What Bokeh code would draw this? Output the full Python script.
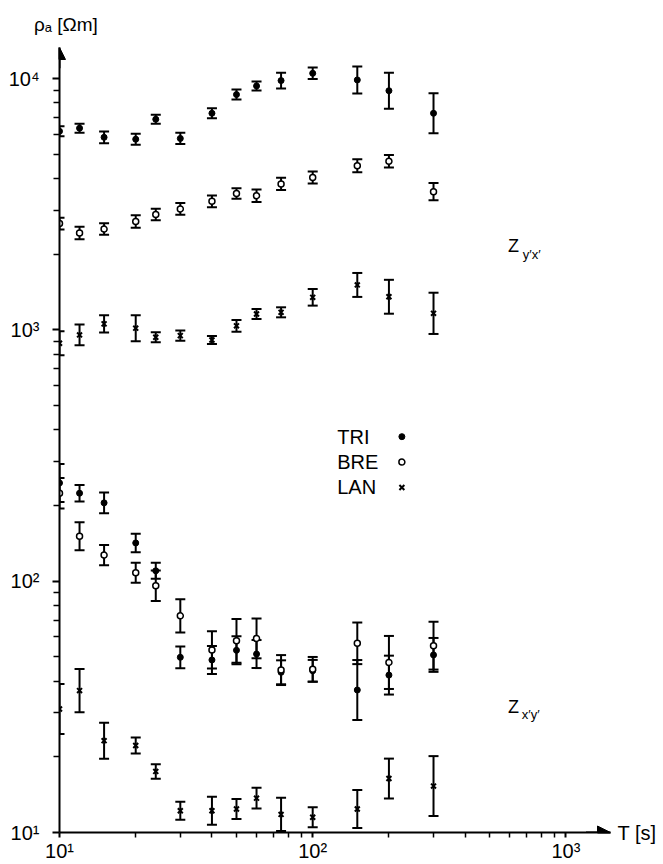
from bokeh.plotting import figure
from bokeh.models import (Range1d, FixedTicker, CustomJSTickFormatter, Label, Arrow,
                          NormalHead, Whisker, TeeHead, ColumnDataSource, LogAxis)
from bokeh.embed import file_html
from bokeh.resources import INLINE

# ---------------- data ----------------
periods = [10, 12, 15, 20, 24, 30, 40, 50, 60, 75, 100, 150, 200, 300]

# Z_y'x' (upper group)
tri_yx = [6170, 6350, 5840, 5740, 6890, 5780, 7280, 8640, 9350, 9820, 10500, 9880, 8950, 7280]
tri_yx_err = [1.047, 1.042, 1.056, 1.052, 1.042, 1.053, 1.047, 1.047, 1.042, 1.074, 1.054, 1.131, 1.179, 1.20]
bre_yx = [2650, 2430, 2520, 2700, 2880, 3030, 3250, 3490, 3420, 3810, 4040, 4500, 4690, 3550]
bre_yx_err = [1.055, 1.059, 1.054, 1.059, 1.055, 1.055, 1.055, 1.050, 1.059, 1.058, 1.056, 1.061, 1.059, 1.083]
lan_yx = [885, 955, 1057, 1016, 935, 949, 912, 1038, 1157, 1175, 1348, 1510, 1355, 1164]
lan_yx_err = [1.116, 1.100, 1.083, 1.126, 1.047, 1.047, 1.037, 1.056, 1.047, 1.047, 1.079, 1.116, 1.168, 1.208]

# Z_x'y' (lower group)
tri_xy = [246, 224, 205, 142, 110, 49.8, 48.6, 53.1, 51.3, 43.4, 44.0, 36.9, 42.3, 50.9]
tri_xy_err = [1.19, 1.079, 1.10, 1.088, 1.076, 1.105, 1.137, 1.137, 1.137, 1.116, 1.105, 1.316, 1.195, 1.168]
bre_xy = [224, 151, 127, 108, 96, 72.8, 53.3, 57.9, 59.2, 44.3, 44.6, 56.6, 47.5, 55.4]
bre_xy_err = [1.15, 1.137, 1.096, 1.096, 1.15, 1.165, 1.186, 1.223, 1.20, 1.147, 1.12, 1.21, 1.275, 1.245]
lan_xy = [31.0, 36.7, 23.2, 22.2, 17.5, 12.2, 12.2, 12.4, 13.7, 11.8, 11.5, 12.4, 16.4, 15.3]
lan_xy_err = [1.257, 1.219, 1.179, 1.076, 1.069, 1.086, 1.137, 1.096, 1.10, 1.165, 1.096, 1.19, 1.20, 1.316]

legend_names = ["TRI", "BRE", "LAN"]
x_major = [10, 100, 1000]
y_major = [10, 100, 1000, 10000]
x_title = "T [s]"
y_title = "\u03c1\u2090 [\u03a9m]"

FONT = "Liberation Sans"

# ---------------- figure ----------------
p = figure(width=663, height=864, x_axis_type="log", y_axis_type="log",
           x_range=Range1d(10, 1500), y_range=Range1d(10, 13300),
           output_backend="svg", toolbar_location=None,
           min_border_left=59, min_border_right=53, min_border_top=47, min_border_bottom=30)
p.outline_line_color = None
p.grid.visible = False
p.background_fill_color = "white"
p.border_fill_color = "white"

x_minor = [m * d for d in [10, 100] for m in range(2, 10)]
y_minor = [m * d for d in [10, 100, 1000] for m in range(2, 10)]
p.xaxis.ticker = FixedTicker(ticks=x_major, minor_ticks=x_minor)
p.yaxis.ticker = FixedTicker(ticks=y_major, minor_ticks=y_minor)

fmt_code = """
const s = {0:'\u2070',1:'\u00b9',2:'\u00b2',3:'\u00b3',4:'\u2074'};
const e = Math.round(Math.log10(tick));
return '10' + (s[e] !== undefined ? s[e] : e);
"""
for ax in (p.xaxis[0], p.yaxis[0]):
    ax.formatter = CustomJSTickFormatter(code=fmt_code)
    ax.axis_line_width = 2
    ax.axis_line_color = "black"
    ax.major_tick_line_width = 2
    ax.minor_tick_line_width = 1.5
    ax.major_tick_line_color = "black"
    ax.minor_tick_line_color = "black"
    ax.major_tick_in = 0
    ax.minor_tick_in = 0
    ax.major_label_text_font = FONT
    ax.major_label_text_font_size = "20px"
    ax.major_label_text_color = "black"

p.xaxis.major_tick_out = 5
p.xaxis.minor_tick_out = 5
p.xaxis.major_label_standoff = 2
p.yaxis.major_tick_out = 7
p.yaxis.minor_tick_out = 6
p.yaxis.major_label_standoff = 13

# axis titles as single-tick axes (placed at the arrow ends)
x_title_axis = LogAxis(ticker=FixedTicker(ticks=[10]),
                       formatter=CustomJSTickFormatter(code="return %r;" % x_title),
                       axis_line_color=None, major_tick_line_color=None,
                       minor_tick_line_color=None, major_tick_out=0,
                       major_label_standoff=7, major_label_text_font=FONT,
                       major_label_text_font_size="20px", major_label_text_color="black")
p.add_layout(x_title_axis, "right")
y_title_axis = LogAxis(ticker=FixedTicker(ticks=[10.6]),
                       formatter=CustomJSTickFormatter(code="return %r;" % y_title),
                       axis_line_color=None, major_tick_line_color=None,
                       minor_tick_line_color=None, major_tick_out=0,
                       major_label_standoff=13, major_label_text_font=FONT,
                       major_label_text_font_size="19px", major_label_text_color="black")
p.add_layout(y_title_axis, "above")

# axis arrows
p.add_layout(Arrow(end=NormalHead(size=13, fill_color="black", line_color="black", line_width=1),
                   x_start=1200, y_start=10, x_end=1500, y_end=10,
                   line_width=2, line_color="black"))
p.add_layout(Arrow(end=NormalHead(size=12, fill_color="black", line_color="black", line_width=1),
                   x_start=10, y_start=11000, x_end=10, y_end=13300,
                   line_width=2, line_color="black"))


def add_series(vals, errs, kind):
    lo = [v / f for v, f in zip(vals, errs)]
    hi = [v * f for v, f in zip(vals, errs)]
    src = ColumnDataSource(dict(x=periods, y=vals, lo=lo, hi=hi))
    p.add_layout(Whisker(source=src, base="x", lower="lo", upper="hi", dimension="height",
                         line_width=2, line_color="black",
                         upper_head=TeeHead(size=10, line_width=2, line_color="black"),
                         lower_head=TeeHead(size=10, line_width=2, line_color="black")))
    if kind == "TRI":
        p.scatter("x", "y", source=src, marker="circle", size=6,
                  fill_color="black", line_color="black")
    elif kind == "BRE":
        p.scatter("x", "y", source=src, marker="circle", size=6,
                  fill_color="white", line_color="black", line_width=1.5)
    else:
        p.scatter("x", "y", source=src, marker="x", size=7,
                  line_color="black", line_width=2)


add_series(tri_yx, tri_yx_err, "TRI")
add_series(bre_yx, bre_yx_err, "BRE")
add_series(lan_yx, lan_yx_err, "LAN")
add_series(tri_xy, tri_xy_err, "TRI")
add_series(bre_xy, bre_xy_err, "BRE")
add_series(lan_xy, lan_xy_err, "LAN")

# legend (text then symbol)
leg_y = [376, 298, 236]
for name, yy in zip(legend_names, leg_y):
    p.add_layout(Label(x=125, y=yy, text=name, text_font=FONT, text_font_size="20px",
                       text_color="black", text_baseline="middle", text_align="left"))
p.scatter([225], [leg_y[0]], marker="circle", size=6, fill_color="black", line_color="black")
p.scatter([225], [leg_y[1]], marker="circle", size=6, fill_color="white",
          line_color="black", line_width=1.5)
p.scatter([225], [leg_y[2]], marker="x", size=7, line_color="black", line_width=2)

# group labels
p.add_layout(Label(x=590, y=2153, text="Z", text_font=FONT, text_font_size="18px",
                   text_color="black", text_baseline="middle"))
p.add_layout(Label(x=676, y=2000, text="y\u2032x\u2032", text_font=FONT, text_font_size="13px",
                   text_color="black", text_baseline="middle"))
p.add_layout(Label(x=590, y=31.6, text="Z", text_font=FONT, text_font_size="18px",
                   text_color="black", text_baseline="middle"))
p.add_layout(Label(x=670, y=29.5, text="x\u2032y\u2032", text_font=FONT, text_font_size="13px",
                   text_color="black", text_baseline="middle"))

open("out.html", "w").write(file_html(p, INLINE))
